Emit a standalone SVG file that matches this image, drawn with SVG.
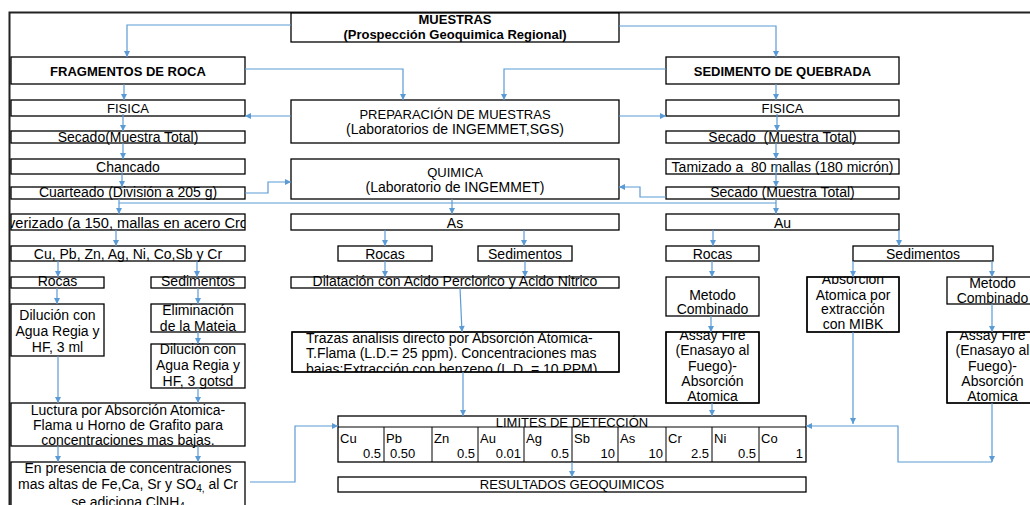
<svg xmlns="http://www.w3.org/2000/svg" width="1030" height="505" viewBox="0 0 1030 505">
<style>
.b{fill:#fff;stroke:#000;stroke-width:1.3}
.t{font-family:"Liberation Sans",Arial,sans-serif;font-size:14px;fill:#000;text-anchor:middle}
.s{font-size:13px}
.h{font-size:13px;font-weight:bold}
.l{text-anchor:start}
.r{text-anchor:end}
.c{fill:none;stroke:#5B9BD5;stroke-width:1.2}
.a{marker-end:url(#ar)}
.g{fill:none;stroke:#000;stroke-width:1}
</style>
<defs>
<marker id="ar" markerUnits="userSpaceOnUse" markerWidth="7" markerHeight="6" refX="6" refY="3" orient="auto" viewBox="0 0 6 6"><path d="M0,0 L6,3 L0,6 z" fill="#5B9BD5"/></marker>
<clipPath id="cp-pulv"><rect x="11" y="214" width="234" height="16"/></clipPath>
<clipPath id="cp-traz"><rect x="292" y="332" width="327" height="40"/></clipPath>
<clipPath id="cp-asl"><rect x="666" y="332" width="93" height="71"/></clipPath>
<clipPath id="cp-abs"><rect x="807" y="277" width="92" height="55"/></clipPath>
<clipPath id="cp-asr"><rect x="947" y="332" width="91" height="71"/></clipPath>
</defs>
<rect width="1030" height="505" fill="#fff"/>
<path d="M9.5,505 V12.5 H1030" fill="none" stroke="#222" stroke-width="2"/>

<g id="n-muestras"><rect class="b" x="291" y="13" width="328" height="29"/><text class="t h" x="455" y="24">MUESTRAS</text><text class="t h" x="455" y="39">(Prospección Geoquimica Regional)</text></g>
<g id="n-fragmentos"><rect class="b" x="11" y="57" width="234" height="27"/><text class="t h" x="128" y="76">FRAGMENTOS DE ROCA</text></g>
<g id="n-sedimento"><rect class="b" x="666" y="57" width="233" height="27"/><text class="t h" x="782.5" y="76">SEDIMENTO DE QUEBRADA</text></g>
<g id="n-prep"><rect class="b" x="291" y="100" width="328" height="43"/><text class="t s" x="455" y="119">PREPARACIÓN DE MUESTRAS</text><text class="t" x="455" y="134">(Laboratorios de INGEMMET,SGS)</text></g>
<g id="n-quimica"><rect class="b" x="291" y="159" width="328" height="40"/><text class="t s" x="455" y="177">QUIMICA</text><text class="t" x="455" y="192">(Laboratorio de INGEMMET)</text></g>

<g id="n-fisica-l"><rect class="b" x="11" y="100" width="234" height="16"/><text class="t s" x="128" y="113">FISICA</text></g>
<g id="n-secado-l"><rect class="b" x="11" y="131" width="234" height="12"/><text class="t" x="128" y="141.5">Secado(Muestra Total)</text></g>
<g id="n-chancado"><rect class="b" x="11" y="159" width="234" height="15"/><text class="t" x="128" y="172">Chancado</text></g>
<g id="n-cuarteado"><rect class="b" x="11" y="187" width="234" height="12"/><text class="t" x="128" y="197">Cuarteado (División a 205 g)</text></g>
<g id="n-pulverizado"><rect class="b" x="11" y="214" width="234" height="16"/><text class="t l" x="8" y="228" textLength="240" lengthAdjust="spacingAndGlyphs" clip-path="url(#cp-pulv)">verizado (a 150, mallas en acero Cro</text></g>
<g id="n-elementos"><rect class="b" x="11" y="246" width="234" height="15"/><text class="t" x="128" y="259">Cu, Pb, Zn, Ag, Ni, Co,Sb y Cr</text></g>
<g id="n-rocas-l"><rect class="b" x="11" y="277" width="93" height="11"/><text class="t" x="57.5" y="286">Rocas</text></g>
<g id="n-sed-l"><rect class="b" x="151" y="277" width="94" height="11"/><text class="t" x="198" y="286">Sedimentos</text></g>
<g id="n-dil1"><rect class="b" x="11" y="304" width="93" height="52"/><text class="t" x="57.5" y="320">Dilución con</text><text class="t" x="57.5" y="336">Agua Regia y</text><text class="t" x="57.5" y="352">HF, 3 ml</text></g>
<g id="n-elim"><rect class="b" x="151" y="304" width="94" height="28"/><text class="t" x="198" y="315">Eliminación</text><text class="t" x="198" y="330.5">de la Mateia</text></g>
<g id="n-dil2"><rect class="b" x="151" y="344" width="94" height="44"/><text class="t" x="198" y="354">Dilución con</text><text class="t" x="198" y="370">Agua Regia y</text><text class="t" x="198" y="386">HF, 3 gotsd</text></g>
<g id="n-luctura"><rect class="b" x="11" y="403" width="234" height="43"/><text class="t" x="128" y="415">Luctura por Absorción Atomica-</text><text class="t" x="128" y="430">Flama u Horno de Grafito para</text><text class="t" x="128" y="445">concentraciones mas bajas.</text></g>
<g id="n-presencia"><rect class="b" x="11" y="462" width="234" height="60"/><text class="t" x="128" y="473">En presencia de concentraciones</text><text class="t" x="128" y="489">mas altas de Fe,Ca, Sr y SO<tspan dy="3" font-size="10">4,</tspan><tspan dy="-3"> al Cr</tspan></text><text class="t" x="128" y="506.5">se adiciona ClNH<tspan dy="3" font-size="10">4</tspan></text></g>

<g id="n-as"><rect class="b" x="291" y="214" width="328" height="16"/><text class="t" x="455" y="228">As</text></g>
<g id="n-rocas-m"><rect class="b" x="338" y="246" width="94" height="15"/><text class="t" x="385" y="259">Rocas</text></g>
<g id="n-sed-m"><rect class="b" x="478" y="246" width="94" height="15"/><text class="t" x="525" y="259">Sedimentos</text></g>
<g id="n-dilatacion"><rect class="b" x="291" y="277" width="328" height="11"/><text class="t" x="455" y="286">Dilatación con Acido Perclorico y Acido Nitrico</text></g>
<g id="n-trazas"><rect class="b" x="292" y="332" width="327" height="40"/><g clip-path="url(#cp-traz)"><text class="t l" x="306" y="342.5">Trazas analisis directo por Absorción Atomica-</text><text class="t l" x="306" y="358">T.Flama (L.D.= 25 ppm). Concentraciones mas</text><text class="t l" x="306" y="374">bajas:Extracción con benzeno (L.D. = 10 PPM)</text></g><rect x="292" y="332" width="327" height="40" fill="none" stroke="#000" stroke-width="1.3"/></g>

<g id="n-limites">
<rect class="b" x="338" y="416" width="468" height="46"/>
<path class="g" d="M338,427 H806 M384,427 V462 M432,427 V462 M478,427 V462 M524,427 V462 M572,427 V462 M618,427 V462 M666,427 V462 M712,427 V462 M759,427 V462"/>
<text class="t s" x="572" y="426.5">LIMITES DE DETECCIÓN</text>
<text class="t s l" x="340" y="443">Cu</text><text class="t s l" x="386" y="443">Pb</text><text class="t s l" x="434" y="443">Zn</text><text class="t s l" x="480" y="443">Au</text><text class="t s l" x="526" y="443">Ag</text><text class="t s l" x="574" y="443">Sb</text><text class="t s l" x="620" y="443">As</text><text class="t s l" x="668" y="443">Cr</text><text class="t s l" x="714" y="443">Ni</text><text class="t s l" x="761" y="443">Co</text>
<text class="t s r" x="381" y="458">0.5</text><text class="t s l" x="390" y="458">0.50</text><text class="t s r" x="475" y="458">0.5</text><text class="t s r" x="521" y="458">0.01</text><text class="t s r" x="569" y="458">0.5</text><text class="t s r" x="615" y="458">10</text><text class="t s r" x="663" y="458">10</text><text class="t s r" x="709" y="458">2.5</text><text class="t s r" x="756" y="458">0.5</text><text class="t s r" x="803" y="458">1</text>
</g>
<g id="n-resultados"><rect class="b" x="338" y="477" width="468" height="15"/><text class="t s" x="572" y="489">RESULTADOS GEOQUIMICOS</text></g>

<g id="n-fisica-r"><rect class="b" x="666" y="100" width="233" height="16"/><text class="t s" x="782.5" y="113">FISICA</text></g>
<g id="n-secado-r"><rect class="b" x="666" y="131" width="233" height="12"/><text class="t" x="782.5" y="141.5" xml:space="preserve">Secado  (Muestra Total)</text></g>
<g id="n-tamizado"><rect class="b" x="666" y="159" width="233" height="15"/><text class="t" x="782.5" y="172" xml:space="preserve">Tamizado a  80 mallas (180 micrón)</text></g>
<g id="n-secado2"><rect class="b" x="666" y="187" width="233" height="12"/><text class="t" x="782.5" y="197">Secado (Muestra Total)</text></g>
<g id="n-au"><rect class="b" x="666" y="214" width="233" height="16"/><text class="t" x="782.5" y="228">Au</text></g>
<g id="n-rocas-r"><rect class="b" x="666" y="246" width="93" height="15"/><text class="t" x="712.5" y="259">Rocas</text></g>
<g id="n-sed-r"><rect class="b" x="853" y="246" width="140" height="15"/><text class="t" x="923" y="259">Sedimentos</text></g>
<g id="n-metodo-l"><rect class="b" x="666" y="277" width="93" height="39"/><text class="t" x="712.5" y="300">Metodo</text><text class="t" x="712.5" y="314">Combinado</text></g>
<g id="n-assay-l"><rect class="b" x="666" y="332" width="93" height="71"/><g clip-path="url(#cp-asl)"><text class="t" x="712.5" y="340">Assay Fire</text><text class="t" x="712.5" y="355">(Enasayo al</text><text class="t" x="712.5" y="370.5">Fuego)-</text><text class="t" x="712.5" y="386">Absorción</text><text class="t" x="712.5" y="401">Atomica</text></g><rect x="666" y="332" width="93" height="71" fill="none" stroke="#000" stroke-width="1.3"/></g>
<g id="n-absorcion"><rect class="b" x="807" y="277" width="92" height="55"/><g clip-path="url(#cp-abs)"><text class="t" x="853" y="284">Absorcion</text><text class="t" x="853" y="299.5">Atomica por</text><text class="t" x="853" y="314">extracción</text><text class="t" x="853" y="329">con MIBK</text></g><rect x="807" y="277" width="92" height="55" fill="none" stroke="#000" stroke-width="1.3"/></g>
<g id="n-metodo-r"><rect class="b" x="947" y="277" width="91" height="27"/><text class="t" x="992.5" y="288">Metodo</text><text class="t" x="992.5" y="303">Combinado</text></g>
<g id="n-assay-r"><rect class="b" x="947" y="332" width="91" height="71"/><g clip-path="url(#cp-asr)"><text class="t" x="992.5" y="340">Assay Fire</text><text class="t" x="992.5" y="355">(Enasayo al</text><text class="t" x="992.5" y="370.5">Fuego)-</text><text class="t" x="992.5" y="386">Absorción</text><text class="t" x="992.5" y="401">Atomica</text></g><rect x="947" y="332" width="91" height="71" fill="none" stroke="#000" stroke-width="1.3"/></g>

<g id="connectors">
<path class="c a" d="M291,25 H127 V57"/>
<path class="c a" d="M619,26 H776 V57"/>
<path class="c a" d="M245,69 H403 V100"/>
<path class="c a" d="M666,69 H504 V100"/>
<path class="c a" d="M291,116 H245"/>
<path class="c a" d="M619,116 H666"/>
<path class="c a" d="M124,84 V100"/>
<path class="c a" d="M123,114 V131"/>
<path class="c a" d="M123,143 V159"/>
<path class="c a" d="M122,172 V187"/>
<path class="c a" d="M119,199 V214"/>
<path class="c" d="M119,203 H776"/>
<path class="c a" d="M116,230 V246"/>
<path class="c a" d="M58,261 V277"/>
<path class="c a" d="M197,261 V277"/>
<path class="c a" d="M57,288 V304"/>
<path class="c a" d="M198,288 V304"/>
<path class="c a" d="M198,332 V344"/>
<path class="c a" d="M58,356 V403"/>
<path class="c a" d="M198,388 V403"/>
<path class="c a" d="M58,446 V462"/>
<path class="c a" d="M198,446 V462"/>
<path class="c a" d="M250,482 H295 V426 H338"/>
<path class="c a" d="M245,193 H268 V182 H291"/>
<path class="c a" d="M452,199 V214"/>
<path class="c a" d="M666,197 H640 V187 H619"/>
<path class="c a" d="M385,230 V246"/>
<path class="c a" d="M524,230 V246"/>
<path class="c a" d="M385,261 V277"/>
<path class="c a" d="M525,261 V277"/>
<path class="c a" d="M460,288 L462,332"/>
<path class="c a" d="M463,372 V416"/>
<path class="c a" d="M572,462 V477"/>
<path class="c a" d="M776,84 V100"/>
<path class="c a" d="M777,114 V131"/>
<path class="c a" d="M776,143 V159"/>
<path class="c a" d="M776,164 V187"/>
<path class="c a" d="M776,199 V214"/>
<path class="c a" d="M713,230 V246"/>
<path class="c a" d="M899,230 V246"/>
<path class="c a" d="M712,261 V277"/>
<path class="c a" d="M711,316 V332"/>
<path class="c a" d="M712,403 V416"/>
<path class="c a" d="M853,261 V277"/>
<path class="c a" d="M992,261 V277"/>
<path class="c a" d="M992,304 V332"/>
<path class="c a" d="M853,332 V424"/>
<path class="c a" d="M992,403 V462"/>
<path class="c a" d="M992,462 H898 V426 H806"/>
</g>
</svg>
